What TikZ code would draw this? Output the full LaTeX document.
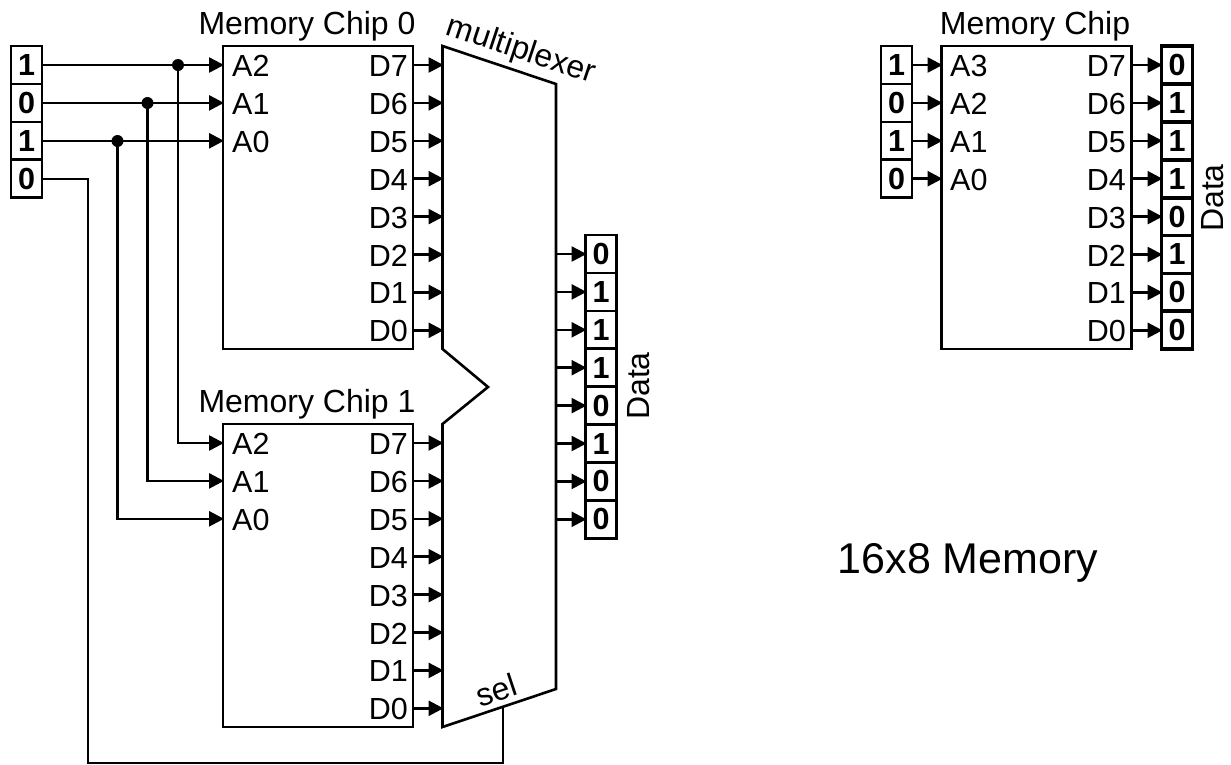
\documentclass[tikz,border=0pt]{standalone}
\usepackage{fontspec}
\setmainfont{Liberation Sans}
\usetikzlibrary{arrows.meta,calc}
\tikzset{
  x=1pt,y=-1pt,
  wire/.style={line width=2.6pt,line cap=butt},
  selwire/.style={line width=2.1pt,line cap=butt},
  sig/.style={wire,-{Triangle[length=15pt,width=15pt,sep=0pt]},shorten >=-1pt},
  chipbox/.style={draw,line width=2.6pt,minimum width=190pt,minimum height=303pt,inner sep=0,outer sep=0,anchor=north west},
  bitbox/.style={draw,line width=2.6pt,minimum width=31pt,minimum height=37.9pt,inner sep=0,outer sep=0,font=\fontsize{30.5}{30}\selectfont\bfseries},
  thickbit/.style={bitbox,line width=3.8pt},
  pinlabel/.style={inner sep=0,font=\fontsize{30.5}{30}\selectfont},
  title/.style={inner sep=0,font=\fontsize{32}{32}\selectfont},
  junction/.style={circle,fill=black,draw=none,minimum size=12pt,inner sep=0},
}
\begin{document}
\begin{tikzpicture}
\useasboundingbox (0,0) rectangle (1231,764);
% memory chips
\node[chipbox] (chipA) at (223,46) {};
\node[chipbox] (chipB) at (223,424) {};
\node[chipbox] (chipC) at (941.5,46) {};
\node[title,anchor=base] (tA) at (307,34) {Memory Chip 0};
\node[title,anchor=base] (tB) at (307,412) {Memory Chip 1};
\node[title,anchor=base] (tC) at (1035,34) {Memory Chip};
% multiplexer
\coordinate (m1) at (442.5,46);
\coordinate (m2) at (556,84);
\coordinate (m3) at (556,689);
\coordinate (m4) at (442.5,727);
\coordinate (m5) at (442.5,424);
\coordinate (m6) at (488,387);
\coordinate (m7) at (442.5,349);
\draw[wire,line join=miter] (m1)--(m2)--(m3)--(m4)--(m5)--(m6)--(m7)--cycle;
\node[title,rotate=-18.4] (tm) at (521,51) {multiplexer};
\node[title,rotate=18.4] (ts) at (496,690) {sel};
% pins of the chips
\foreach \i/\t in {0/7,1/6,2/5,3/4,4/3,5/2,6/1,7/0}{
  \node[pinlabel,anchor=east] (dA\t) at (408,{65+37.9*\i+1}) {D\t};
  \node[pinlabel,anchor=east] (dB\t) at (408,{443+37.9*\i+1}) {D\t};
  \node[pinlabel,anchor=east] (dC\t) at (1126,{65+37.9*\i+1}) {D\t};
  \coordinate (ya\t) at (0,{65+37.9*\i});
  \coordinate (yb\t) at (0,{443+37.9*\i});
  \draw[sig] (chipA.east |- ya\t) -- (m1 |- ya\t);
  \draw[sig] (chipB.east |- yb\t) -- (m1 |- yb\t);
}
\foreach \i/\t in {0/2,1/1,2/0}{
  \node[pinlabel,anchor=west] (aA\t) at (232,{65+37.9*\i+1}) {A\t};
  \node[pinlabel,anchor=west] (aB\t) at (232,{443+37.9*\i+1}) {A\t};
}
\foreach \i/\t in {0/3,1/2,2/1,3/0}{
  \node[pinlabel,anchor=west] (aC\t) at (950,{65+37.9*\i+1}) {A\t};
}
% input bits, left
\foreach \i/\b in {0/1,1/0,2/1,3/0}{
  \node[bitbox] (inA\i) at (26.5,{65+37.9*\i}) {\b};
  \node[bitbox] (inC\i) at (896.5,{65+37.9*\i}) {\b};
  \draw[sig] (inC\i.east) -- (chipC.west |- inC\i);
}
% output bits
\foreach \i/\b in {0/0,1/1,2/1,3/1,4/0,5/1,6/0,7/0}{
  \node[bitbox] (outM\i) at (601,{254+37.9*\i}) {\b};
  \draw[sig] (m2 |- outM\i) -- (outM\i.west);
  \node[thickbit] (outC\i) at (1177,{65+37.9*\i}) {\b};
  \draw[sig] (chipC.east |- outC\i) -- (outC\i.west);
}
\node[title,rotate=90] (dl1) at (639,386) {Data};
\node[title,rotate=90] (dl2) at (1213,198) {Data};
% address wires
\node[junction] (j2) at (178,65) {};
\node[junction] (j1) at (147.5,103) {};
\node[junction] (j0) at (117.5,141) {};
\draw[sig] (inA0.east) -- (chipA.west |- inA0);
\draw[sig] (inA1.east) -- (chipA.west |- inA1);
\draw[sig] (inA2.east) -- (chipA.west |- inA2);
\draw[sig] (j2.center) |- (chipB.west |- yb7);
\draw[sig] (j1.center) |- (chipB.west |- yb6);
\draw[sig] (j0.center) |- (chipB.west |- yb5);
% select wire
\coordinate (sb1) at (88,763);
\coordinate (sb2) at (503,763);
\coordinate (sb3) at (503,708);
\draw[selwire] (inA3.east) -| (sb1) -- (sb2) -- (sb3);
% caption
\node[inner sep=0,anchor=base,font=\fontsize{43}{43}\selectfont] (cap) at (968,573) {16x8 Memory};
\end{tikzpicture}
\end{document}
